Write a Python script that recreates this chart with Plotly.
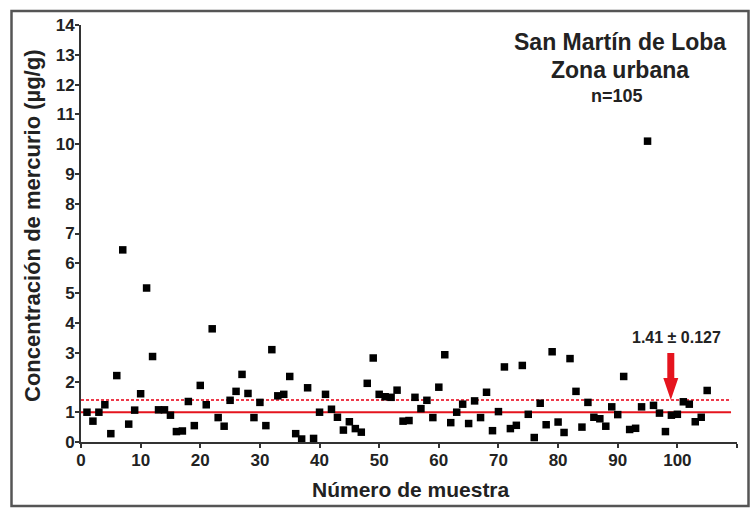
import plotly.graph_objects as go

# ---------------- data ----------------
sample_number = list(range(1, 106))
mercury_ug_g = [
    1.0, 0.7, 1.0, 1.25, 0.28, 2.23, 6.45, 0.6, 1.07, 1.62,
    5.17, 2.87, 1.08, 1.08, 0.9, 0.35, 0.37, 1.36, 0.55, 1.9,
    1.25, 3.8, 0.82, 0.53, 1.4, 1.7, 2.27, 1.63, 0.82, 1.33,
    0.55, 3.1, 1.55, 1.6, 2.2, 0.28, 0.1, 1.82, 0.12, 1.0,
    1.6, 1.1, 0.83, 0.4, 0.68, 0.45, 0.33, 1.97, 2.82, 1.6,
    1.52, 1.5, 1.74, 0.7, 0.72, 1.5, 1.12, 1.4, 0.82, 1.84,
    2.93, 0.65, 1.0, 1.27, 0.62, 1.38, 0.82, 1.67, 0.38, 1.02,
    2.52, 0.45, 0.56, 2.57, 0.93, 0.15, 1.3, 0.58, 3.03, 0.67,
    0.32, 2.8, 1.7, 0.5, 1.33, 0.83, 0.78, 0.53, 1.18, 0.92,
    2.2, 0.42, 0.46, 1.18, 10.1, 1.23, 0.97, 0.35, 0.9, 0.93,
    1.35, 1.27, 0.68, 0.83, 1.73,
]
reference_level = 1.0          # solid red line
mean_value = 1.41              # dashed red line
mean_label = "1.41 ± 0.127"
line_x_span = [0, 109]
arrow_sample = 98.9
x_ticks = list(range(0, 111, 10))
y_ticks = list(range(0, 15))

title_lines = ["San Martín de Loba", "Zona urbana", "n=105"]
x_title = "Número de muestra"
y_title = "Concentración de mercurio (µg/g)"

# ---------------- layout geometry ----------------
W, H = 750, 508
L, R, T, B = 81, 13, 25, 66
PW, PH = W - L - R, H - T - B


def px_x(px):
    return (px - L) / PW


def px_y(py):
    return (T + PH - py) / PH


FONT = "Liberation Sans, Arial, sans-serif"
TXT = "#222222"
RED = "#e5141e"
RED_DASH = "#ee3a4a"

fig = go.Figure()

fig.add_trace(go.Scatter(
    x=line_x_span, y=[reference_level] * 2, mode="lines",
    line=dict(color=RED, width=2), hoverinfo="skip", showlegend=False))
fig.add_trace(go.Scatter(
    x=line_x_span, y=[mean_value] * 2, mode="lines",
    line=dict(color=RED_DASH, width=2, dash="3px,2px"), hoverinfo="skip",
    showlegend=False))
fig.add_trace(go.Scatter(
    x=sample_number, y=mercury_ug_g, mode="markers",
    marker=dict(symbol="square", size=7.5, color="black"),
    cliponaxis=False, showlegend=False))

axis_common = dict(
    showgrid=False, zeroline=False, showline=True, linecolor="#333333",
    linewidth=2, ticks="outside", ticklen=4, tickwidth=1.5,
    tickcolor="#333333", mirror=False,
    tickfont=dict(family=FONT, size=17, color=TXT, weight="bold"),
)

fig.update_xaxes(range=[0, 110], tickvals=x_ticks, ticklabelstandoff=-2,
                 **axis_common)
fig.update_yaxes(range=[0, 14], tickvals=y_ticks, ticklabelstandoff=-3,
                 **axis_common)

annotations = [
    dict(x=px_x(620), y=px_y(42), text=title_lines[0],
         font=dict(family=FONT, size=23, color=TXT, weight="bold")),
    dict(x=px_x(620), y=px_y(70), text=title_lines[1],
         font=dict(family=FONT, size=23, color=TXT, weight="bold")),
    dict(x=px_x(617), y=px_y(96), text=title_lines[2],
         font=dict(family=FONT, size=18, color=TXT, weight="bold")),
    dict(x=px_x(411), y=px_y(489), text=x_title,
         font=dict(family=FONT, size=21, color=TXT, weight="bold")),
    dict(x=px_x(32), y=px_y(226), text=y_title, textangle=-90,
         font=dict(family=FONT, size=22, color=TXT, weight="bold")),
    dict(x=px_x(676), y=px_y(337), text=mean_label,
         font=dict(family=FONT, size=16, color=TXT, weight="bold")),
]
for a in annotations:
    a.update(xref="paper", yref="paper", showarrow=False,
             xanchor="center", yanchor="middle")

shapes = [
    # red arrow pointing at the mean line
    dict(type="path", xref="x", yref="y", xsizemode="pixel",
         ysizemode="pixel", xanchor=arrow_sample, yanchor=mean_value,
         path="M0,0 L-7.5,22 L-3.5,22 L-3.5,47 L3.5,47 L3.5,22 L7.5,22 Z",
         fillcolor=RED, line=dict(width=0)),
    # outer frame of the picture
    dict(type="rect", xref="paper", yref="paper",
         x0=px_x(11.5), x1=px_x(748.5), y0=px_y(506), y1=px_y(11),
         line=dict(color="#555555", width=2.5), fillcolor="rgba(0,0,0,0)",
         layer="below"),
]

fig.update_layout(
    width=W, height=H,
    margin=dict(l=L, r=R, t=T, b=B),
    paper_bgcolor="white", plot_bgcolor="white",
    annotations=annotations, shapes=shapes,
    showlegend=False,
)

fig.write_html("out.html")
